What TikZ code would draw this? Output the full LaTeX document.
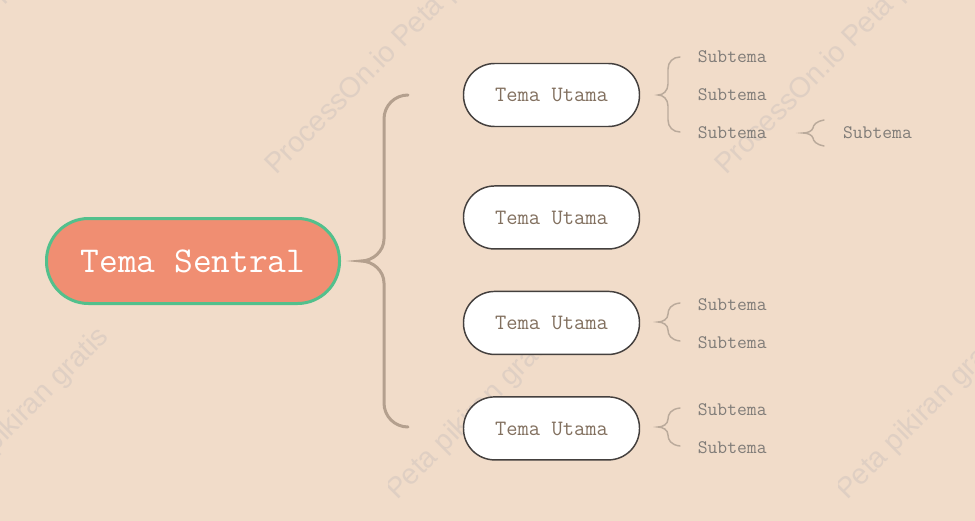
\documentclass[tikz,border=0pt]{standalone}
\usepackage{fontspec}
\newfontfamily\wmfont{Liberation Sans}
\usetikzlibrary{positioning,calc}
\definecolor{pagebg}{RGB}{241,220,201}
\definecolor{coralfill}{RGB}{240,142,114}
\definecolor{mintline}{RGB}{82,192,140}
\definecolor{boxline}{RGB}{68,64,62}
\definecolor{maintext}{RGB}{130,112,95}
\definecolor{subtext}{RGB}{128,124,120}
\definecolor{trunkline}{RGB}{180,160,142}
\definecolor{twigline}{RGB}{186,170,155}
\definecolor{wmark}{RGB}{223,207,195}

\begin{document}
\begin{tikzpicture}[
    x=0.75pt, y=-0.75pt,
    centralbox/.style={rectangle, rounded corners=31.5pt, draw=mintline, line width=2.25pt, fill=coralfill,
                       minimum width=219.75pt, minimum height=63.75pt, inner sep=0pt,
                       font=\fontsize{27.3}{31}\selectfont\ttfamily, text=white, text height=16.7pt, text depth=0pt},
    mainbox/.style={rectangle, rounded corners=23.4pt, draw=boxline, line width=1.1pt, fill=white,
                    minimum width=132pt, minimum height=47.25pt, inner sep=0pt,
                    font=\fontsize{16.4}{19}\selectfont\ttfamily, text=maintext, text height=10pt, text depth=0pt},
    subtopic/.style={inner sep=0pt, font=\fontsize{14.3}{17}\selectfont\ttfamily, text=subtext,
                     text height=8.7pt, text depth=0pt},
    watermark/.style={anchor=base west, rotate=45, inner sep=0pt, font=\wmfont\fontsize{21.5}{25}\selectfont, text=wmark},
    trunk/.style={draw=trunkline, line width=2.25pt, line cap=round},
    twig/.style={draw=twigline, line width=1.1pt, line cap=round}
]
\useasboundingbox (0,0) rectangle (975,521);
\fill[pagebg] (0,0) rectangle (975,521);

% watermark tiles (lower row is cut at its tile edge)
\begin{scope}
\clip (0,0) rectangle (975,521);
\foreach \wx [count=\i] in {-174,276,726} {
  \node[watermark] (wmA\i) at (\wx,176) {ProcessOn.io Peta pikiran gratis};
  \begin{scope}
    \clip (\wx+112,250) rectangle (\wx+562,521);
    \node[watermark] (wmB\i) at (\wx-6,628) {ProcessOn.io Peta pikiran gratis};
  \end{scope}
}
\end{scope}

% nodes
\node[centralbox] (central) at (193,261) {Tema Sentral};
\node[mainbox] (t1) at (551.5,95) {Tema Utama};
\node[mainbox, below=43.5pt of t1] (t2) {Tema Utama};
\node[mainbox, below=30.75pt of t2] (t3) {Tema Utama};
\node[mainbox, below=30.75pt of t3] (t4) {Tema Utama};

\node[subtopic, right=43pt of t1] (s12) {Subtema};
\node[subtopic, above=19.3pt of s12] (s11) {Subtema};
\node[subtopic, below=19.3pt of s12] (s13) {Subtema};
\node[subtopic, right=57pt of s13] (s14) {Subtema};

\node[subtopic, right=43pt of t3, yshift=13.9pt] (s31) {Subtema};
\node[subtopic, below=19.3pt of s31] (s32) {Subtema};
\node[subtopic, right=43pt of t4, yshift=13.9pt] (s41) {Subtema};
\node[subtopic, below=19.3pt of s41] (s42) {Subtema};

% brace from the central topic
\draw[trunk] (408,95) .. controls (394.7,95) and (384,105.7) .. (384,119) -- (384,239)
  .. controls (384,251) and (373,261) .. (361,261)
  .. controls (373,261) and (384,271) .. (384,283) -- (384,403)
  .. controls (384,416.3) and (394.7,427) .. (408,427);

% braces to the subtopics
\draw[twig] (680,57) .. controls (673,57) and (668,62) .. (668,69) -- (668,84)
  .. controls (668,91) and (663,95) .. (658,95)
  .. controls (663,95) and (668,99) .. (668,106) -- (668,120)
  .. controls (668,127) and (673,132) .. (680,132);
\draw[twig] (824,120) .. controls (817,121) and (813,125) .. (813,128)
  .. controls (812,131) and (808,133) .. (803,133)
  .. controls (808,133) and (812,135) .. (813,138)
  .. controls (813,141) and (817,145) .. (824,146);
\foreach \dy in {0,105}
  \draw[twig] (680,303+\dy) .. controls (671,304+\dy) and (668,309+\dy) .. (668,314+\dy)
    .. controls (668,319+\dy) and (663,322+\dy) .. (658,322+\dy)
    .. controls (663,322+\dy) and (668,325+\dy) .. (668,330+\dy)
    .. controls (668,335+\dy) and (671,340+\dy) .. (680,341+\dy);
\end{tikzpicture}
\end{document}
